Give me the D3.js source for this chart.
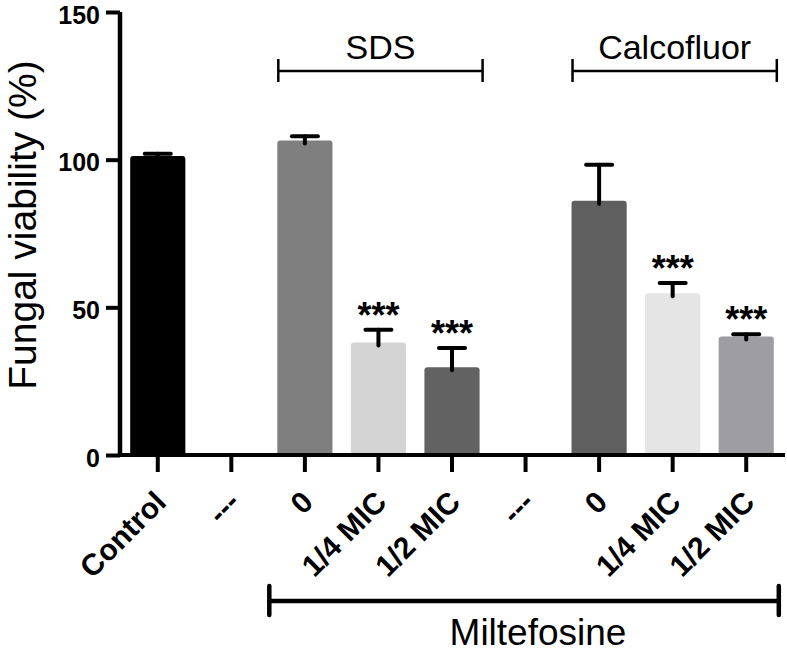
<!DOCTYPE html>
<html>
<head>
<meta charset="utf-8">
<script src="https://cdn.jsdelivr.net/npm/d3@7"></script>
<style>
  html, body { margin: 0; padding: 0; background: #fff; }
  svg { display: block; }
  text { font-family: "Liberation Sans", Arial, sans-serif; fill: #000; }
</style>
</head>
<body>
<svg id="chart" width="787" height="654"></svg>
<script>
// ---- data ----
const categories = ["Control", "---", "0", "1/4 MIC", "1/2 MIC", "---", "0", "1/4 MIC", "1/2 MIC"];
const values     = [101.2, null, 106.5, 38.1, 29.7, null, 86.1, 54.8, 40.1];
const errors     = [0.8, null, 1.4, 4.3, 6.5, null, 12.2, 3.4, 0.8];
const signif     = ["", "", "", "***", "***", "", "", "***", "***"];
const yTicks     = [0, 50, 100, 150];
const groupLabels = ["SDS", "Calcofluor"];
const groupFrom   = [2, 6];
const groupTo     = [4, 8];
const outerLabel  = "Miltefosine";
const outerFrom   = 2;
const outerTo     = 8;
const yTitle      = "Fungal viability (%)";

// ---- styles ----
const barColors = ["#000000", "#000000", "#7f7f7f", "#d4d4d4", "#626262", "#000000", "#5f5f5f", "#e5e5e5", "#9e9ea2"];

const svg = d3.select("#chart");
const idx = d3.range(categories.length);

const x = d3.scaleBand().domain(idx).range([121, 783]).paddingInner(0.25).paddingOuter(0.125);
const y = d3.scaleLinear().domain([0, 150]).range([455, 12]);
const bw = x.bandwidth();

// bars
svg.append("g").selectAll("rect")
  .data(idx.filter(i => values[i] != null))
  .join("rect")
  .attr("x", i => x(i))
  .attr("y", i => y(values[i]))
  .attr("width", bw)
  .attr("height", i => y(0) - y(values[i]) + 2)
  .attr("rx", 3)
  .attr("fill", i => barColors[i]);

// error bars (upper only)
const eg = svg.append("g").attr("stroke", "#000").attr("stroke-width", 4).attr("stroke-linecap", "round");
idx.filter(i => values[i] != null).forEach(i => {
  const cx = x(i) + bw / 2;
  eg.append("line").attr("x1", cx).attr("x2", cx)
    .attr("y1", y(values[i]) + 3).attr("y2", y(values[i] + errors[i]));
  eg.append("line").attr("x1", cx - 13).attr("x2", cx + 13)
    .attr("y1", y(values[i] + errors[i])).attr("y2", y(values[i] + errors[i]));
});

// significance stars
svg.append("g").selectAll("text")
  .data(idx.filter(i => signif[i]))
  .join("text")
  .attr("x", i => x(i) + bw / 2)
  .attr("y", i => y(values[i] + errors[i]) - 2)
  .attr("text-anchor", "middle")
  .attr("font-size", 36)
  .attr("font-weight", "bold")
  .text(i => signif[i]);

// y axis
const yAxis = svg.append("g").attr("transform", "translate(120,0)")
  .call(d3.axisLeft(y).tickValues(yTicks).tickSize(14).tickSizeOuter(0).tickPadding(6));
yAxis.select(".domain").attr("stroke-width", 4.5).attr("d", `M0,${y(150)}V${y(0) + 2}`);
yAxis.selectAll(".tick line").attr("stroke-width", 4);
yAxis.selectAll(".tick text")
  .attr("font-size", 25).attr("font-weight", "bold").attr("dy", "0.44em")
  .attr("font-family", "Liberation Sans, Arial, sans-serif").attr("fill", "#000");

// x axis
const xAxis = svg.append("g").attr("transform", "translate(0,455)")
  .call(d3.axisBottom(x).tickSize(17).tickSizeOuter(0).tickFormat(i => categories[i]));
xAxis.select(".domain").attr("stroke-width", 4).attr("d", "M118,0H785");
xAxis.selectAll(".tick line").attr("stroke-width", 4);
xAxis.selectAll(".tick text")
  .attr("font-size", 30).attr("font-weight", "bold")
  .attr("font-family", "Liberation Sans, Arial, sans-serif").attr("fill", "#000")
  .attr("text-anchor", "end")
  .attr("dy", null)
  .attr("y", null)
  .attr("transform", "translate(10,49) rotate(-45)");

// y title
svg.append("text")
  .attr("transform", "translate(36,225) rotate(-90)")
  .attr("text-anchor", "middle")
  .attr("font-size", 39)
  .text(yTitle);

// group brackets
groupLabels.forEach((lab, k) => {
  const x0 = x(groupFrom[k]) + 1, x1 = x(groupTo[k]) + bw + 3;
  const g = svg.append("g").attr("stroke", "#000").attr("stroke-width", 2.5);
  g.append("line").attr("x1", x0).attr("x2", x1).attr("y1", 71).attr("y2", 71);
  g.append("line").attr("x1", x0).attr("x2", x0).attr("y1", 59).attr("y2", 82);
  g.append("line").attr("x1", x1).attr("x2", x1).attr("y1", 59).attr("y2", 82);
  svg.append("text").attr("x", (x0 + x1) / 2).attr("y", 59)
    .attr("text-anchor", "middle").attr("font-size", 34).text(lab);
});

// outer bracket
{
  const x0 = x(outerFrom) - 8, x1 = x(outerTo) + bw + 5;
  const g = svg.append("g").attr("stroke", "#000").attr("stroke-width", 4.5).attr("stroke-linecap", "round");
  g.append("line").attr("x1", x0).attr("x2", x1).attr("y1", 601).attr("y2", 601);
  g.append("line").attr("x1", x0).attr("x2", x0).attr("y1", 586).attr("y2", 615);
  g.append("line").attr("x1", x1).attr("x2", x1).attr("y1", 586).attr("y2", 615);
  svg.append("text").attr("x", 538).attr("y", 645)
    .attr("text-anchor", "middle").attr("font-size", 37).text(outerLabel);
}
</script>
</body>
</html>
